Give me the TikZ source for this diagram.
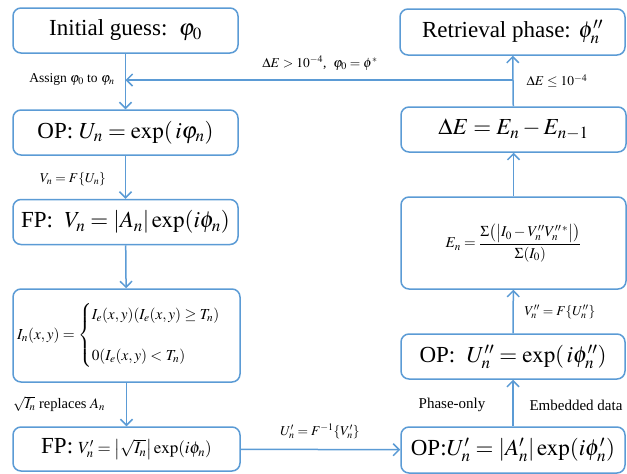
\documentclass[tikz,border=0pt]{standalone}
\usepackage{amsmath,amssymb}
\usepackage{mathptmx}
\usepackage[no-math]{fontspec}
\setmainfont{Liberation Serif}
\usetikzlibrary{arrows.meta,positioning}
\definecolor{flowblue}{RGB}{91,155,213}
\begin{document}
\begin{tikzpicture}[x=1pt,y=-1pt,
  box/.style={draw=flowblue,line width=1.5pt,rounded corners=8pt,minimum width=225pt,minimum height=45pt,inner sep=2pt},
  big/.style={font=\fontsize{23}{27}\selectfont},
  mid/.style={font=\fontsize{15}{18}\selectfont},
  lab/.style={font=\fontsize{13.5}{16}\selectfont},
  flow/.style={draw=flowblue,line width=1.5pt,-{Straight Barb[length=6pt,width=12pt]}}]
\useasboundingbox (0,0) rectangle (627,474);
\node[box,big] (init) at (125.5,30.5) {Initial guess:\ \ $\varphi_0$};
\node[box,big] (op) at (125.5,132.5) {OP:\ $U_n=\exp(\,i\varphi_n)$};
\node[box,big] (fp) at (125.5,222) {FP:\ \ $V_n=\lvert A_n\rvert\exp(i\phi_n)$};
\node[box,font=\fontsize{15.3}{18}\selectfont,minimum width=227pt,minimum height=93pt,inner sep=1pt] (thr) at (126.5,335.5)
  {$I_n(x,y)=\begin{cases}I_e(x,y)(I_e(x,y)\ge T_n)\\[20pt]0(I_e(x,y)<T_n)\end{cases}$};
\node[box,minimum width=227pt,minimum height=44pt] (fpb) at (126.5,449)
  {{\fontsize{23}{27}\selectfont FP:}\ \ {\fontsize{17}{20}\selectfont$V'_n=\bigl\lvert\sqrt{I_n}\bigr\rvert\exp(i\phi_n)$}};
\node[box,big,minimum height=46pt] (ret) at (512.5,32) {Retrieval phase: $\phi''_n$};
\node[box,big] (de) at (513.5,129.5) {$\Delta E=E_n-E_{n-1}$};
\node[box,mid,minimum height=92pt] (en) at (513.5,243)
  {$E_n=\dfrac{\Sigma\bigl(\bigl\lvert I_0-V''_nV''^{\,*}_n\bigr\rvert\bigr)}{\Sigma(I_0)}$};
\node[box,big,minimum width=224pt] (opp) at (513,356.5) {OP:\ \ $U''_n=\exp(\,i\phi''_n)$};
\node[box,big,minimum width=224pt,minimum height=46pt] (opb) at (513,450) {OP:$U'_n=\lvert A'_n\rvert\exp(i\phi'_n)$};
\coordinate (back) at (513,80);
\coordinate (join) at (125.5,80);
\draw[flow] (init) -- (op);
\draw[flow] (op) -- (fp);
\draw[flow] (fp) -- (thr);
\draw[flow] (thr) -- (fpb);
\draw[flow] (fpb) -- (opb);
\draw[flow] (opb) -- (opp);
\draw[flow] (opp) -- (en);
\draw[flow] (en) -- (de);
\draw[flow] (de) -- (ret);
\draw[flow] (back) -- (join);
\node[lab] (assign) at (72,80) {Assign $\varphi_0$ to $\varphi_n$};
\node[lab] (loop) at (320,63) {$\Delta E>10^{-4}$,\ \ $\varphi_0=\phi^{*}$};
\node[lab] (stop) at (557,81) {$\Delta E\le10^{-4}$};
\node[lab] (fourier) at (73,179) {$V_n=F\{U_n\}$};
\node[font=\fontsize{14.5}{17}\selectfont] (replace) at (59,404) {$\sqrt{I_n}$ replaces $A_n$};
\node[lab] (inverse) at (320,431) {$U'_n=F^{-1}\{V'_n\}$};
\node[mid] (phase) at (452,405) {Phase-only};
\node[mid,anchor=west] (embed) at (526,405) {Embedded data};
\node[lab] (fourier2) at (560,312) {$V''_n=F\{U''_n\}$};
\end{tikzpicture}
\end{document}
